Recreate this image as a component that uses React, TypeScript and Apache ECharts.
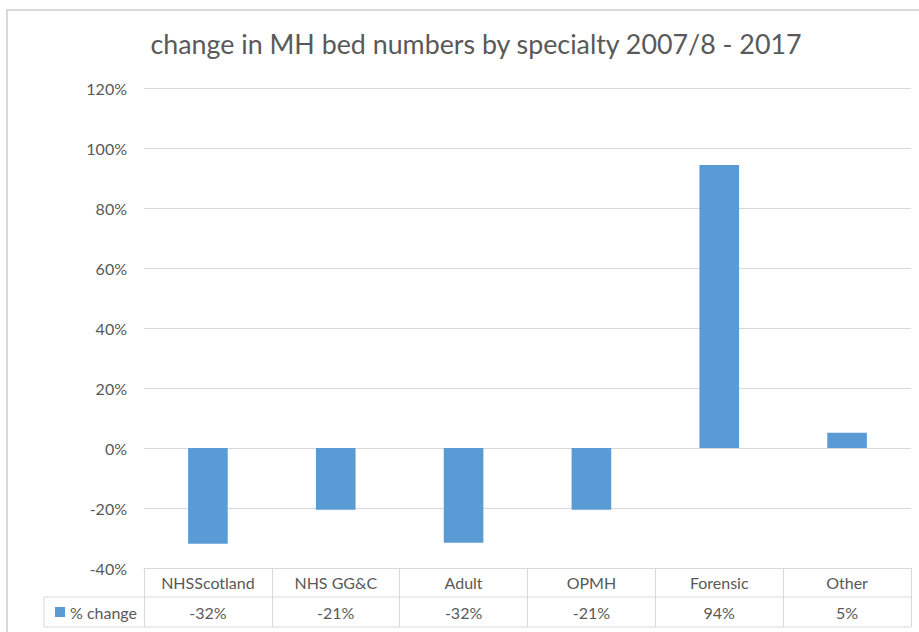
import React, { useEffect, useRef } from "react";
import * as echarts from "echarts";

const categories = ["NHSScotland", "NHS GG&C", "Adult", "OPMH", "Forensic", "Other"];
const seriesName = "% change";
const values = [-0.319, -0.206, -0.316, -0.206, 0.943, 0.051];
const tableLabels = ["-32%", "-21%", "-32%", "-21%", "94%", "5%"];
const yMin = -0.4;
const yMax = 1.2;
const yInterval = 0.2;
const title = "change in MH bed numbers by specialty 2007/8 - 2017";

const FONT = "Lato, 'Noto Sans', sans-serif";
const TEXT = "#595959";
const LINE = "#d9d9d9";
const BAR = "#5b9bd5";

export default function App() {
  const ref = useRef<HTMLDivElement>(null);
  useEffect(() => {
    if (!ref.current) return;
    const chart = echarts.init(ref.current, undefined, { renderer: "svg" });
    chart.setOption({
      animation: false,
      backgroundColor: "#ffffff",
      textStyle: { fontFamily: FONT },
      title: {
        text: title,
        left: 471,
        textAlign: "center",
        top: 25,
        textStyle: { fontFamily: FONT, fontSize: 26.8, fontWeight: "normal", color: TEXT },
      },
      legend: {
        left: 50,
        top: 599,
        icon: "rect",
        itemWidth: 10,
        itemHeight: 10,
        itemGap: 6,
        textStyle: { fontFamily: FONT, fontSize: 16, color: TEXT },
        data: [seriesName],
      },
      grid: { left: 144, right: 8, top: 88, bottom: 64, containLabel: false },
      xAxis: [
        {
          type: "category",
          data: categories,
          position: "bottom",
          axisLine: { show: true, onZero: false, lineStyle: { color: LINE, width: 1 } },
          axisTick: { show: true, length: 59, lineStyle: { color: LINE, width: 1 } },
          axisLabel: {
            margin: 14,
            verticalAlign: "middle",
            fontFamily: FONT,
            fontSize: 16,
            color: TEXT,
            interval: 0,
          },
        },
        {
          type: "category",
          data: tableLabels,
          position: "bottom",
          offset: 29,
          axisLine: { show: false },
          axisTick: { show: false },
          axisLabel: {
            margin: 15,
            verticalAlign: "middle",
            fontFamily: FONT,
            fontSize: 16,
            color: TEXT,
            interval: 0,
          },
        },
      ],
      yAxis: {
        type: "value",
        min: yMin,
        max: yMax,
        interval: yInterval,
        axisLine: { show: false },
        axisTick: { show: false },
        splitLine: { lineStyle: { color: LINE, width: 1 } },
        axisLabel: {
          margin: 17,
          fontFamily: FONT,
          fontSize: 16,
          color: TEXT,
          formatter: (v: number) => Math.round(v * 100) + "%",
        },
      },
      series: [
        {
          name: seriesName,
          type: "bar",
          data: values,
          barWidth: "31%",
          itemStyle: { color: BAR },
        },
      ],
      graphic: [
        {
          type: "rect",
          shape: { x: 7, y: 10, width: 1000, height: 800 },
          style: { fill: "none", stroke: LINE, lineWidth: 2 },
          silent: true,
        },
        {
          type: "line",
          shape: { x1: 44, y1: 597, x2: 911, y2: 597 },
          style: { stroke: LINE, lineWidth: 1 },
          silent: true,
        },
        {
          type: "line",
          shape: { x1: 44, y1: 627, x2: 911, y2: 627 },
          style: { stroke: LINE, lineWidth: 1 },
          silent: true,
        },
        {
          type: "line",
          shape: { x1: 44, y1: 597, x2: 44, y2: 627 },
          style: { stroke: LINE, lineWidth: 1 },
          silent: true,
        },
      ],
    });
    return () => chart.dispose();
  }, []);
  return (
    <div
      ref={ref}
      style={{ position: "fixed", left: 0, top: 0, width: 919, height: 632 }}
    />
  );
}
